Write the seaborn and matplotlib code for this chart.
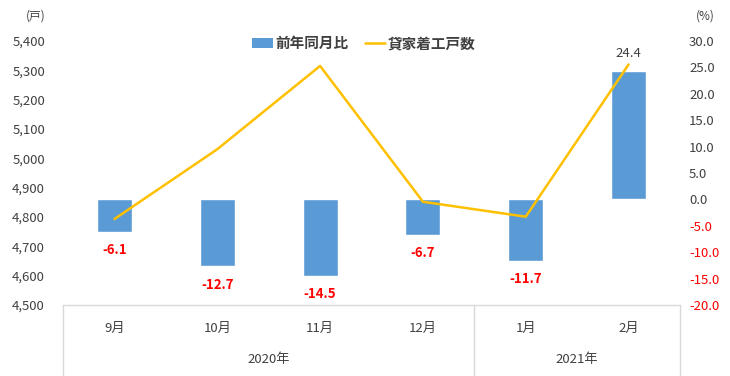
import numpy as np
import pandas as pd
import matplotlib
matplotlib.use("Agg")
import matplotlib.pyplot as plt
import matplotlib.transforms as mtransforms
from matplotlib.lines import Line2D
from matplotlib.patches import Patch
import seaborn as sns

# ---- data ----
months = ["9月", "10月", "11月", "12月", "1月", "2月"]
years = ["2020年", "2021年"]
year_span = [4, 2]  # months per year group
yoy_pct = [-6.1, -12.7, -14.5, -6.7, -11.7, 24.4]
units = [4793, 5031, 5315, 4852, 4801, 5320]

BAR_C = "#5B9BD5"
LINE_C = "#FFC000"
TXT_C = "#404040"
GRID_C = "#D9D9D9"

sns.set_theme(style="white")
plt.rcParams["font.family"] = ["Noto Sans CJK JP", "DejaVu Sans"]
plt.rcParams["axes.unicode_minus"] = False

df = pd.DataFrame({"month": months, "pct": yoy_pct, "units": units, "pos": np.arange(len(months))})

fig = plt.figure(figsize=(7.3, 3.76), dpi=100)
ax_bar = fig.add_axes([63 / 730, 1 - 305 / 376, (680 - 63) / 730, (305 - 41) / 376])

sns.barplot(data=df, x="month", y="pct", color=BAR_C, width=0.34, saturation=1,
            ax=ax_bar, zorder=2)
ax_bar.set_ylim(-20, 30)
ax_bar.set_xlim(-0.5, len(months) - 0.5)
ax_bar.set_xlabel("")
ax_bar.set_ylabel("")
ax_bar.set_xticks(range(len(months)))
ax_bar.set_xticklabels(months, fontsize=9.5, color=TXT_C)
ax_bar.tick_params(axis="x", length=0, pad=12)
for s in ["top", "left", "right"]:
    ax_bar.spines[s].set_visible(False)
ax_bar.spines["bottom"].set_color(GRID_C)
ax_bar.spines["bottom"].set_linewidth(1)

# bar value labels
for i, v in enumerate(yoy_pct):
    if v < 0:
        ax_bar.annotate(f"{v:.1f}", (i, v), xytext=(0, -13), textcoords="offset points",
                        ha="center", va="center", color="red", fontsize=9.5, fontweight="bold")
    else:
        ax_bar.annotate(f"{v:.1f}", (i, v), xytext=(0, 12), textcoords="offset points",
                        ha="center", va="center", color=TXT_C, fontsize=9.5)

# line on twin axis (left scale)
ax_line = ax_bar.twinx()
sns.lineplot(data=df, x="pos", y="units", color=LINE_C, linewidth=1.8, ax=ax_line)
ax_line.set_ylim(4500, 5400)
ax_line.set_xlim(-0.5, len(months) - 0.5)
ax_line.set_ylabel("")
ax_line.set_xlabel("")
for s in ax_line.spines.values():
    s.set_visible(False)

# put scales on their sides after twinx
ax_bar.yaxis.tick_right()
ax_bar.set_yticks(np.arange(-20, 31, 5))
ax_bar.set_yticklabels([f"{v:.1f}" for v in np.arange(-20, 31, 5)], fontsize=9.5)
for lbl, v in zip(ax_bar.get_yticklabels(), np.arange(-20, 31, 5)):
    lbl.set_color("red" if v < 0 else TXT_C)
ax_bar.tick_params(axis="y", length=0, pad=6.5, labelleft=False, labelright=True)

ax_line.yaxis.tick_left()
ax_line.set_yticks(np.arange(4500, 5401, 100))
ax_line.set_yticklabels([f"{v:,}" for v in np.arange(4500, 5401, 100)], fontsize=9.5, color=TXT_C)
ax_line.tick_params(axis="y", length=0, pad=13, labelleft=True, labelright=False)

# category table below
trans = mtransforms.blended_transform_factory(ax_bar.transData, ax_bar.transAxes)
bottom = -75 / 264
edges = [-0.5]
for n in year_span:
    edges.append(edges[-1] + n)
for x in edges:
    ax_bar.add_line(Line2D([x, x], [0, bottom], transform=trans, color=GRID_C, lw=1, clip_on=False))
for k, yr in enumerate(years):
    cx = (edges[k] + edges[k + 1]) / 2
    ax_bar.text(cx, -55 / 264, yr, transform=trans, ha="center", va="center", fontsize=9.5, color=TXT_C)

# unit labels
fig.text(36 / 730, 1 - 16 / 376, "(戸)", ha="center", va="center", fontsize=8.5, color=TXT_C)
fig.text(705 / 730, 1 - 16 / 376, "(%)", ha="center", va="center", fontsize=8.5, color=TXT_C)

# legend
handles = [Patch(facecolor=BAR_C, edgecolor="none"), Line2D([0], [0], color=LINE_C, lw=1.8)]
leg = fig.legend(handles, ["前年同月比", "貸家着工戸数"], loc="center", bbox_to_anchor=(364 / 730, 1 - 43 / 376),
                 ncol=2, frameon=False, fontsize=10.5, handlelength=1.4, handletextpad=0.2,
                 columnspacing=1.1, borderpad=0.2)
for t in leg.get_texts():
    t.set_color(TXT_C)
    t.set_fontweight("bold")

fig.savefig("out.png", dpi=100)
